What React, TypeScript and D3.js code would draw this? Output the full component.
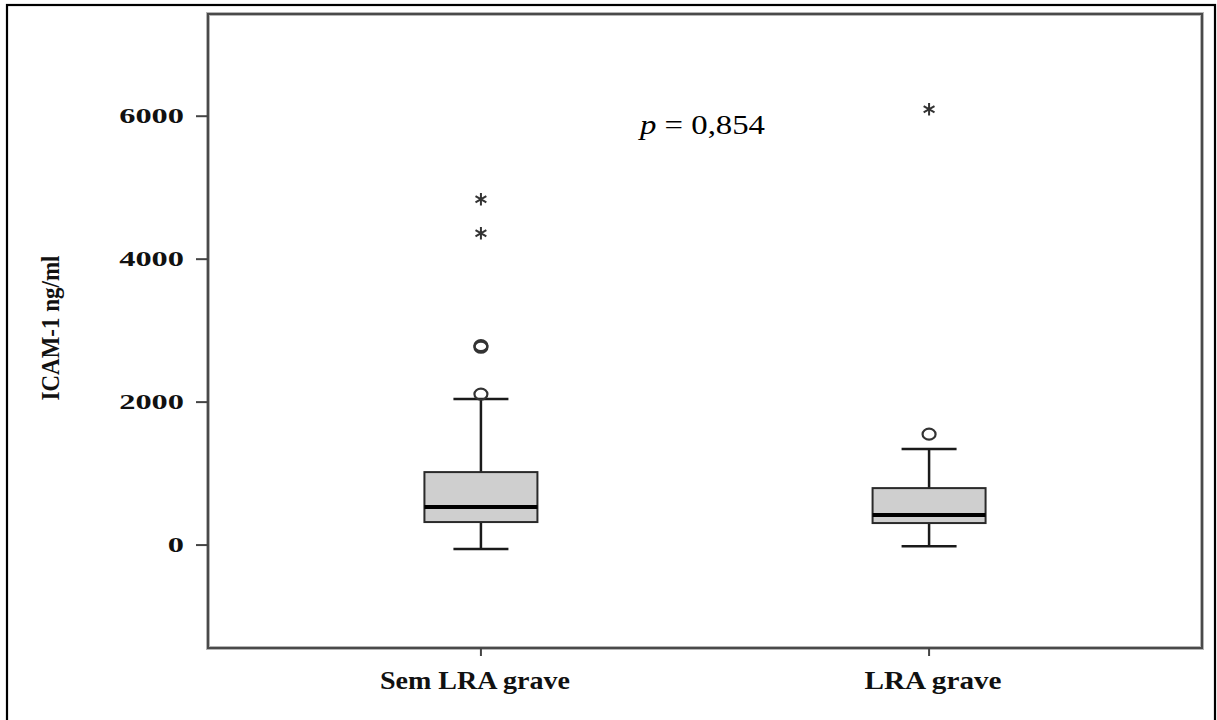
import React from "react";
import * as d3 from "d3";

const categories = ["Sem LRA grave", "LRA grave"];
const q1 = [322, 308];
const median = [531, 420];
const q3 = [1021, 797];
const whiskerLow = [-56, -15];
const whiskerHigh = [2042, 1343];
const circleOutliers = [[2112, 2769, 2790], [1552]];
const starOutliers = [[4364, 4839], [6098]];
const yTicks = [0, 2000, 4000, 6000];
const yLabel = "ICAM-1 ng/ml";
const pText = "0,854";

const W = 1217;
const H = 720;
const plot = { left: 208, right: 1202, top: 14, bottom: 648 };

export default function App() {
  const y = d3.scaleLinear().domain([-1440, 7430]).range([plot.bottom, plot.top]);
  const x = d3.scalePoint<string>().domain(categories).range([plot.left, plot.right]).padding(0.609);
  const boxW = 113;
  const capW = 55;
  const font = "'Liberation Serif', 'Times New Roman', serif";
  const star = d3.symbol().type(d3.symbolAsterisk).size(110)() || "";
  const labelLen = [190, 137];
  const labelShift = [-6, 4];

  return (
    <svg width={W} height={H} style={{ position: "absolute", left: 0, top: 0, background: "#fff" }}>
      <rect x={0} y={0} width={W} height={H} fill="#fff" />
      {/* outer frame */}
      <rect x={7} y={5} width={1208} height={730} fill="none" stroke="#000" strokeWidth={2.2} />
      {/* plot frame */}
      <rect x={plot.left} y={plot.top} width={plot.right - plot.left} height={plot.bottom - plot.top}
        fill="none" stroke="#b5b5b5" strokeWidth={4} />
      <rect x={plot.left} y={plot.top} width={plot.right - plot.left} height={plot.bottom - plot.top}
        fill="none" stroke="#4a4a4a" strokeWidth={2} />

      {/* y ticks */}
      {yTicks.map((t) => (
        <g key={t}>
          <line x1={196} x2={plot.left} y1={y(t)} y2={y(t)} stroke="#444" strokeWidth={2} />
          <text x={184} y={y(t) + 7} textAnchor="end" fontFamily={font} fontWeight="bold" fontSize={20}
            textLength={String(t).length * 16.2} lengthAdjust="spacingAndGlyphs" fill="#111">
            {t}
          </text>
        </g>
      ))}
      <text transform={`translate(59,328) rotate(-90)`} textAnchor="middle" fontFamily={font}
        fontWeight="bold" fontSize={25} textLength={145} lengthAdjust="spacingAndGlyphs" fill="#111">
        {yLabel}
      </text>

      {/* x ticks and labels */}
      {categories.map((c, i) => (
        <g key={c}>
          <line x1={x(c)} x2={x(c)} y1={plot.bottom} y2={plot.bottom + 8} stroke="#444" strokeWidth={2} />
          <text x={x(c)! + labelShift[i]} y={689} textAnchor="middle" fontFamily={font} fontWeight="bold"
            fontSize={25} textLength={labelLen[i]} lengthAdjust="spacingAndGlyphs" fill="#111">
            {c}
          </text>
        </g>
      ))}

      {/* boxes */}
      {categories.map((c, i) => {
        const cx = x(c)!;
        return (
          <g key={c}>
            <line x1={cx} x2={cx} y1={y(q3[i])} y2={y(whiskerHigh[i])} stroke="#1a1a1a" strokeWidth={2.5} />
            <line x1={cx} x2={cx} y1={y(q1[i])} y2={y(whiskerLow[i])} stroke="#1a1a1a" strokeWidth={2.5} />
            <line x1={cx - capW / 2} x2={cx + capW / 2} y1={y(whiskerHigh[i])} y2={y(whiskerHigh[i])}
              stroke="#1a1a1a" strokeWidth={2.5} />
            <line x1={cx - capW / 2} x2={cx + capW / 2} y1={y(whiskerLow[i])} y2={y(whiskerLow[i])}
              stroke="#1a1a1a" strokeWidth={2.5} />
            <rect x={cx - boxW / 2} y={y(q3[i])} width={boxW} height={y(q1[i]) - y(q3[i])}
              fill="#cfcfcf" stroke="#2a2a2a" strokeWidth={2} />
            <line x1={cx - boxW / 2} x2={cx + boxW / 2} y1={y(median[i])} y2={y(median[i])}
              stroke="#000" strokeWidth={4} />
            {circleOutliers[i].map((v, j) => (
              <ellipse key={j} cx={cx} cy={y(v)} rx={6.5} ry={5.5} fill="none" stroke="#333" strokeWidth={2.2} />
            ))}
            {starOutliers[i].map((v, j) => (
              <path key={j} d={star} transform={`translate(${cx},${y(v)})`} fill="none" stroke="#333"
                strokeWidth={2} />
            ))}
          </g>
        );
      })}

      {/* p value */}
      <text x={640} y={134} fontFamily={font} fontSize={28} fill="#000" textLength={125}
        lengthAdjust="spacingAndGlyphs">
        <tspan fontStyle="italic">p</tspan>
        <tspan> = {pText}</tspan>
      </text>
    </svg>
  );
}
